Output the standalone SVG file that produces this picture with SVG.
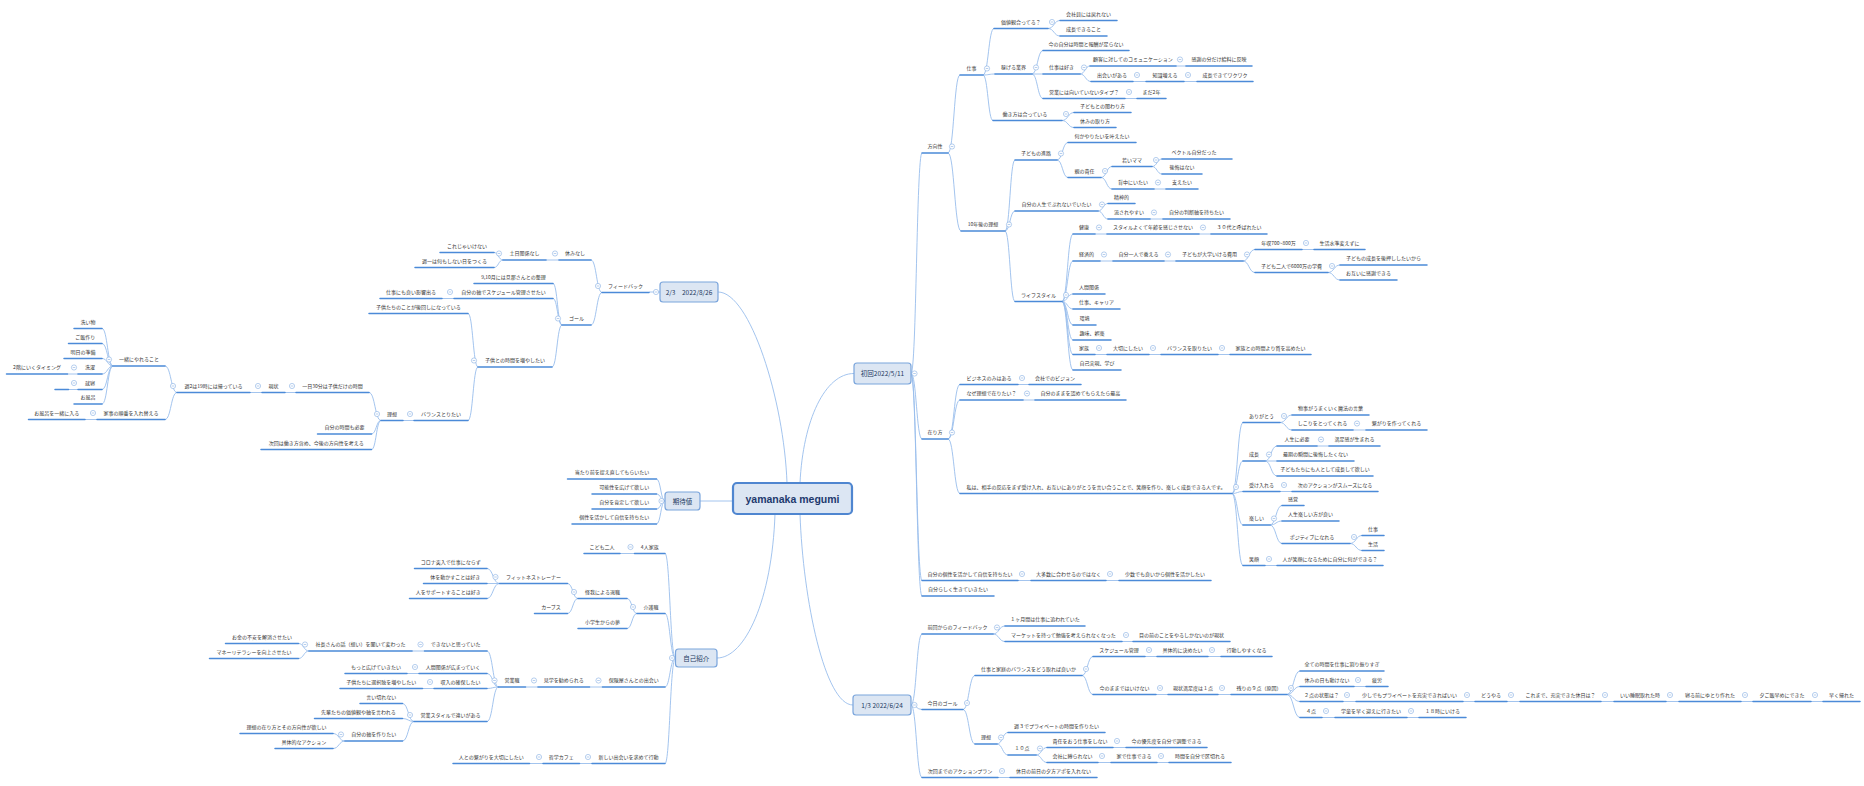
<svg xmlns="http://www.w3.org/2000/svg" xmlns:xlink="http://www.w3.org/1999/xlink" width="1864" height="786" viewBox="0 0 1864 786">
<style>
.u{stroke:#4b8ad8;stroke-width:1.5;fill:none;stroke-linecap:round}
.t{font-family:"Noto Sans CJK JP","Noto Sans CJK SC",sans-serif;font-size:5px;fill:#333;text-anchor:middle}
.c path{stroke:#98bdec;stroke-width:0.9;fill:none}
.b rect{fill:#dce6f3;stroke:#7aa5dc;stroke-width:1.2}
.b text{font-family:"Noto Sans CJK JP","Noto Sans CJK SC",sans-serif;font-size:6.5px;fill:#1e3a5f;text-anchor:middle}
</style>
<defs>
<g id="k"><circle r="2.6" fill="#fff" stroke="#86aee3" stroke-width="0.6"/><path d="M-1.3 0H1.3" stroke="#86aee3" stroke-width="0.6"/></g>
</defs>
<rect width="1864" height="786" fill="#fff"/>
<g id="connectors" class="c">
<path d="M800 483C803 420 825 373.5 854 373.5M787 483C784 400 750 292 718 292M800 514C803 600 825 705 853 705M775 514C772 600 745 658 717 658M733 501H700"/>
<path d="M911 373.5C916.5 373.5 916.5 153 922 153M911 373.5C916.5 373.5 916.5 439 922 439M911 373.5C916.5 373.5 916.5 580.5 922 580.5M911 373.5C916.5 373.5 916.5 596 922 596"/>
<path d="M948 153C954 153 954 75 960 75M948 153C954.5 153 954.5 231 961 231"/>
<path d="M983 75C988.5 75 988.5 28.5 994 28.5M983 75C989 75 989 74 995 74M983 75C988 75 988 120.5 993 120.5"/>
<path d="M1048 28.5C1054 28.5 1054 20.5 1060 20.5M1048 28.5C1054 28.5 1054 36 1060 36"/>
<path d="M1032 74C1037.5 74 1037.5 50.5 1043 50.5M1032 74H1043M1032 74C1037.5 74 1037.5 98.5 1043 98.5"/>
<path d="M1080 74C1085 74 1085 66 1090 66M1080 74C1085.5 74 1085.5 81.5 1091 81.5"/>
<path d="M1176 66H1186M1133 81.5H1146M1184 81.5H1197M1125 98.5H1137"/>
<path d="M1062 120.5C1068 120.5 1068 112.5 1074 112.5M1062 120.5C1068 120.5 1068 127.5 1074 127.5"/>
<path d="M1005 231C1010 231 1010 160 1015 160M1005 231C1010 231 1010 211 1015 211M1005 231C1010 231 1010 301.5 1015 301.5"/>
<path d="M1057 160C1062.5 160 1062.5 142.5 1068 142.5M1057 160C1062.5 160 1062.5 177.5 1068 177.5"/>
<path d="M1101 177.5C1106.5 177.5 1106.5 166.5 1112 166.5M1101 177.5C1106.5 177.5 1106.5 189 1112 189"/>
<path d="M1152 166.5C1157 166.5 1157 159 1162 159M1152 166.5C1157 166.5 1157 174 1162 174M1154 189H1166"/>
<path d="M1098 211C1103 211 1103 203.5 1108 203.5M1098 211C1103 211 1103 219 1108 219M1150 219H1163"/>
<path d="M1062 301.5C1067.5 301.5 1067.5 234 1073 234M1062 301.5C1067.5 301.5 1067.5 261 1073 261M1062 301.5C1067.5 301.5 1067.5 294 1073 294M1062 301.5C1067.5 301.5 1067.5 309 1073 309M1062 301.5C1067.5 301.5 1067.5 325 1073 325M1062 301.5C1067.5 301.5 1067.5 340 1073 340M1062 301.5C1067.5 301.5 1067.5 354.5 1073 354.5M1062 301.5C1067.5 301.5 1067.5 370 1073 370"/>
<path d="M1095 234H1107M1199 234H1211M1100 261H1113M1164 261H1176"/>
<path d="M1243 261C1249 261 1249 249.5 1255 249.5M1243 261C1249 261 1249 272.5 1255 272.5M1302 249.5H1314"/>
<path d="M1328 272.5C1334 272.5 1334 265 1340 265M1328 272.5C1334 272.5 1334 280 1340 280"/>
<path d="M1095 354.5H1107M1149 354.5H1161M1218 354.5H1230"/>
<path d="M948 439C954 439 954 384.5 960 384.5M948 439C954 439 954 400 960 400M948 439C954 439 954 493.5 960 493.5M1018 384.5H1029M1023 400H1035"/>
<path d="M1232 493.5C1237.5 493.5 1237.5 422.5 1243 422.5M1232 493.5C1237.5 493.5 1237.5 461 1243 461M1232 493.5C1237.5 493.5 1237.5 491.5 1243 491.5M1232 493.5C1237.5 493.5 1237.5 525 1243 525M1232 493.5C1237.5 493.5 1237.5 565.5 1243 565.5"/>
<path d="M1280 422.5C1286 422.5 1286 415 1292 415M1280 422.5C1286 422.5 1286 430 1292 430M1353 430H1366"/>
<path d="M1265 461C1271 461 1271 446 1277 446M1265 461H1277M1265 461C1271 461 1271 476 1277 476M1317 446H1329M1280 491.5H1292"/>
<path d="M1270 525C1276 525 1276 505.5 1282 505.5M1270 525C1276 525 1276 521 1282 521M1270 525C1276 525 1276 543.5 1282 543.5"/>
<path d="M1350 543.5C1356 543.5 1356 535.5 1362 535.5M1350 543.5C1356 543.5 1356 550.5 1362 550.5M1265 565.5H1277M1018 580.5H1031M1106 580.5H1119"/>
<path d="M911 705C916.5 705 916.5 634 922 634M911 705C916.5 705 916.5 709.5 922 709.5M911 705C916.5 705 916.5 777.5 922 777.5"/>
<path d="M993 634C999 634 999 626 1005 626M993 634C999 634 999 641.5 1005 641.5M1122 641.5H1133"/>
<path d="M963 709.5C969 709.5 969 675.5 975 675.5M963 709.5C969 709.5 969 744 975 744"/>
<path d="M1082 675.5C1087.5 675.5 1087.5 656.5 1093 656.5M1082 675.5C1087.5 675.5 1087.5 694.5 1093 694.5M1145 656.5H1157M1208 656.5H1221M1156 694.5H1168M1218 694.5H1231"/>
<path d="M1287 694.5C1293.5 694.5 1293.5 671 1300 671M1287 694.5C1293.5 694.5 1293.5 686.5 1300 686.5M1287 694.5C1293.5 694.5 1293.5 701.5 1300 701.5M1287 694.5C1293.5 694.5 1293.5 717.5 1300 717.5"/>
<path d="M1354 686.5H1366M1343 701.5H1356M1463 701.5H1475M1507 701.5H1520M1601 701.5H1614M1666 701.5H1679M1741 701.5H1753M1811 701.5H1823M1322 717.5H1335M1407 717.5H1419"/>
<path d="M997 744C1002.5 744 1002.5 732.5 1008 732.5M997 744C1002.5 744 1002.5 755 1008 755"/>
<path d="M1036 755C1041.5 755 1041.5 747.5 1047 747.5M1036 755C1041.5 755 1041.5 762.5 1047 762.5M1113 747.5H1126M1098 762.5H1111M1157 762.5H1169M998 777.5H1010"/>
<path d="M660 292H649"/>
<path d="M602 292.5C596.5 292.5 596.5 260 591 260M602 292.5C596.5 292.5 596.5 325 591 325M559 260H546"/>
<path d="M503 260C498.5 260 498.5 252.5 494 252.5M503 260C498.5 260 498.5 267.5 494 267.5"/>
<path d="M562 325C557.5 325 557.5 283.5 553 283.5M562 325C557.5 325 557.5 298.5 553 298.5M562 325C557 325 557 367 552 367M454 298.5H442"/>
<path d="M478 367C473 367 473 313.5 468 313.5M478 367C473 367 473 420.5 468 420.5M414 420.5H403"/>
<path d="M381 420.5C375 420.5 375 392.5 369 392.5M381 420.5C376.25 420.5 376.25 434 371.5 434M381 420.5C376.25 420.5 376.25 449.5 371.5 449.5M296 392.5H285M262 392.5H250"/>
<path d="M177 392.5C171 392.5 171 366 165 366M177 392.5C171 392.5 171 419.5 165 419.5"/>
<path d="M113 366C107.5 366 107.5 328.5 102 328.5M113 366C107.5 366 107.5 343.5 102 343.5M113 366C107.5 366 107.5 358.5 102 358.5M113 366C107.5 366 107.5 374 102 374M113 366C107.5 366 107.5 389.5 102 389.5M113 366C107.5 366 107.5 404 102 404M78 374H67.5M78 389.5H68.5M97 419.5H85"/>
<path d="M665 501C660.75 501 660.75 479 656.5 479M665 501C660.75 501 660.75 494 656.5 494M665 501C660.75 501 660.75 509 656.5 509M665 501C660.75 501 660.75 524 656.5 524"/>
<path d="M675.5 658C670 658 670 553.5 665 553.5M675.5 658C670 658 670 613.5 665 613.5M675.5 658C670 658 670 687 665 687M675.5 658C670 658 670 763.5 665 763.5M634.5 553.5H620"/>
<path d="M637 613.5C632 613.5 632 598.5 627 598.5M637 613.5C632 613.5 632 628.5 627 628.5"/>
<path d="M578 598.5C572.75 598.5 572.75 583.5 567.5 583.5M578 598.5C572.75 598.5 572.75 613.5 567.5 613.5"/>
<path d="M499.5 583.5C493 583.5 493 568.5 487 568.5M499.5 583.5H487M499.5 583.5C493 583.5 493 598.5 487 598.5M602.5 687H589.5M538 687H525.5"/>
<path d="M498.5 687C492.75 687 492.75 651 487 651M498.5 687C492.75 687 492.75 673.5 487 673.5M498.5 687C492.75 687 492.75 688.5 487 688.5M498.5 687C492.75 687 492.75 721.5 487 721.5"/>
<path d="M424.5 651H412M309 651C303.75 651 303.75 643.5 298.5 643.5M309 651C303.75 651 303.75 658.5 298.5 658.5M419 673.5H407M434 688.5H422.5"/>
<path d="M414 721.5C408.25 721.5 408.25 703.5 402.5 703.5M414 721.5C408.25 721.5 408.25 718.5 402.5 718.5M414 721.5C408.25 721.5 408.25 741 402.5 741"/>
<path d="M345 741C339 741 339 733.5 333 733.5M345 741C339 741 339 748.5 333 748.5M592 763.5H579.5M543 763.5H529.5"/>
</g>
<g id="root"><rect x="733" y="483" width="119" height="31" rx="4" fill="#dce6f3" stroke="#4f86d0" stroke-width="2.2"/><text x="792.5" y="502.5" font-family="Liberation Sans, Arial, sans-serif" font-size="10.5" font-weight="bold" fill="#1e3a6e" text-anchor="middle">yamanaka megumi</text></g>
<g id="b-first" class="b"><rect x="854" y="363" width="57" height="21" rx="3"/><text x="882.5" y="376">初回2022/5/11</text><use href="#k" x="914.5" y="373.5"/></g>
<g id="b-second" class="b"><rect x="660" y="282" width="58" height="20" rx="3"/><text x="689" y="294.5">2/3　2022/8/26</text><use href="#k" x="656" y="292"/></g>
<g id="b-third" class="b"><rect x="853" y="695" width="58" height="20" rx="3"/><text x="882" y="707.5">1/3 2022/6/24</text><use href="#k" x="914.5" y="705"/></g>
<g id="b-expect" class="b"><rect x="665" y="492" width="35" height="18" rx="3"/><text x="682.5" y="503.5">期待値</text><use href="#k" x="661.5" y="501"/></g>
<g id="b-intro" class="b"><rect x="675.5" y="649" width="41.5" height="18" rx="3"/><text x="696.25" y="660.5">自己紹介</text><use href="#k" x="672" y="658"/></g>
<g id="r1"><path class="u" d="M922 153H948"/><text class="t" x="935" y="148">方向性</text><use href="#k" x="952" y="146.5"/></g>
<g id="r2"><path class="u" d="M960 75H983"/><text class="t" x="971.5" y="70">仕事</text><use href="#k" x="987" y="68.5"/></g>
<g id="r3"><path class="u" d="M994 28.5H1048"/><text class="t" x="1021" y="23.5">価値観合ってる？</text><use href="#k" x="1052" y="22"/></g>
<g id="r4"><path class="u" d="M1060 20.5H1117"/><text class="t" x="1088.5" y="15.5">会社員には戻れない</text></g>
<g id="r5"><path class="u" d="M1060 36H1107"/><text class="t" x="1083.5" y="31">成長できること</text></g>
<g id="r6"><path class="u" d="M995 74H1032"/><text class="t" x="1013.5" y="69">稼げる業界</text><use href="#k" x="1036" y="67.5"/></g>
<g id="r7"><path class="u" d="M1043 50.5H1129"/><text class="t" x="1086" y="45.5">今の自分は時間と報酬が足らない</text></g>
<g id="r8"><path class="u" d="M1043 74H1080"/><text class="t" x="1061.5" y="69">仕事は好き</text><use href="#k" x="1084" y="67.5"/></g>
<g id="r9"><path class="u" d="M1090 66H1176"/><text class="t" x="1133" y="61">顧客に対してのコミュニケーション</text><use href="#k" x="1180" y="59.5"/></g>
<g id="r10"><path class="u" d="M1186 66H1252"/><text class="t" x="1219" y="61">感謝の分だけ給料に反映</text></g>
<g id="r11"><path class="u" d="M1091 81.5H1133"/><text class="t" x="1112" y="76.5">出会いがある</text><use href="#k" x="1137" y="75"/></g>
<g id="r12"><path class="u" d="M1146 81.5H1184"/><text class="t" x="1165" y="76.5">知識増える</text><use href="#k" x="1188" y="75"/></g>
<g id="r13"><path class="u" d="M1197 81.5H1253"/><text class="t" x="1225" y="76.5">成長できてワクワク</text></g>
<g id="r14"><path class="u" d="M1043 98.5H1125"/><text class="t" x="1084" y="93.5">営業には向いていないタイプ？</text><use href="#k" x="1129" y="92"/></g>
<g id="r15"><path class="u" d="M1137 98.5H1166"/><text class="t" x="1151.5" y="93.5">まだ2年</text></g>
<g id="r16"><path class="u" d="M993 120.5H1062"/><text class="t" x="1025" y="115.5">働き方は合っている</text><use href="#k" x="1066" y="114"/></g>
<g id="r17"><path class="u" d="M1074 112.5H1131"/><text class="t" x="1102.5" y="107.5">子どもとの関わり方</text></g>
<g id="r18"><path class="u" d="M1074 127.5H1116"/><text class="t" x="1095" y="122.5">休みの取り方</text></g>
<g id="r19"><path class="u" d="M961 231H1005"/><text class="t" x="983" y="226">10年後の理想</text><use href="#k" x="1009" y="224.5"/></g>
<g id="r20"><path class="u" d="M1015 160H1057"/><text class="t" x="1036" y="155">子どもの進路</text><use href="#k" x="1061" y="153.5"/></g>
<g id="r21"><path class="u" d="M1068 142.5H1136"/><text class="t" x="1102" y="137.5">何かやりたいを叶えたい</text></g>
<g id="r22"><path class="u" d="M1068 177.5H1101"/><text class="t" x="1084.5" y="172.5">親の責任</text><use href="#k" x="1105" y="171"/></g>
<g id="r23"><path class="u" d="M1112 166.5H1152"/><text class="t" x="1132" y="161.5">若いママ</text><use href="#k" x="1156" y="160"/></g>
<g id="r24"><path class="u" d="M1162 159H1232"/><text class="t" x="1194" y="154">ベクトル自分だった</text></g>
<g id="r25"><path class="u" d="M1162 174H1202"/><text class="t" x="1182" y="169">後悔はない</text></g>
<g id="r26"><path class="u" d="M1112 189H1154"/><text class="t" x="1133" y="184">背中にいたい</text><use href="#k" x="1158" y="182.5"/></g>
<g id="r27"><path class="u" d="M1166 189H1198"/><text class="t" x="1182" y="184">支えたい</text></g>
<g id="r28"><path class="u" d="M1015 211H1098"/><text class="t" x="1056.5" y="206">自分の人生でぶれないでいたい</text><use href="#k" x="1102" y="204.5"/></g>
<g id="r29"><path class="u" d="M1108 203.5H1135"/><text class="t" x="1121.5" y="198.5">精神的</text></g>
<g id="r30"><path class="u" d="M1108 219H1150"/><text class="t" x="1129" y="214">流されやすい</text><use href="#k" x="1154" y="212.5"/></g>
<g id="r31"><path class="u" d="M1163 219H1230"/><text class="t" x="1196.5" y="214">自分の判断軸を持ちたい</text></g>
<g id="r32"><path class="u" d="M1015 301.5H1062"/><text class="t" x="1038.5" y="296.5">ライフスタイル</text><use href="#k" x="1066" y="295"/></g>
<g id="r33"><path class="u" d="M1073 234H1095"/><text class="t" x="1084" y="229">健康</text><use href="#k" x="1099" y="227.5"/></g>
<g id="r34"><path class="u" d="M1107 234H1199"/><text class="t" x="1153" y="229">スタイルよくて年齢を感じさせない</text><use href="#k" x="1203" y="227.5"/></g>
<g id="r35"><path class="u" d="M1211 234H1267"/><text class="t" x="1239" y="229">３０代と呼ばれたい</text></g>
<g id="r36"><path class="u" d="M1073 261H1100"/><text class="t" x="1086.5" y="256">経済的</text><use href="#k" x="1104" y="254.5"/></g>
<g id="r37"><path class="u" d="M1113 261H1164"/><text class="t" x="1138.5" y="256">自分一人で養える</text><use href="#k" x="1168" y="254.5"/></g>
<g id="r38"><path class="u" d="M1176 261H1243"/><text class="t" x="1209.5" y="256">子どもが大学いける費用</text><use href="#k" x="1247" y="254.5"/></g>
<g id="r39"><path class="u" d="M1255 249.5H1302"/><text class="t" x="1278.5" y="244.5">年収700~800万</text><use href="#k" x="1306" y="243"/></g>
<g id="r40"><path class="u" d="M1314 249.5H1365"/><text class="t" x="1339.5" y="244.5">生活水準変えずに</text></g>
<g id="r41"><path class="u" d="M1255 272.5H1328"/><text class="t" x="1291.5" y="267.5">子ども二人で6000万の学費</text><use href="#k" x="1332" y="266"/></g>
<g id="r42"><path class="u" d="M1340 265H1427"/><text class="t" x="1383.5" y="260">子どもの成長を後押ししたいから</text></g>
<g id="r43"><path class="u" d="M1340 280H1397"/><text class="t" x="1368.5" y="275">お互いに感謝できる</text></g>
<g id="r44"><path class="u" d="M1073 294H1105"/><text class="t" x="1089" y="289">人間関係</text></g>
<g id="r45"><path class="u" d="M1073 309H1120"/><text class="t" x="1096.5" y="304">仕事、キャリア</text></g>
<g id="r46"><path class="u" d="M1073 325H1096"/><text class="t" x="1084.5" y="320">環境</text></g>
<g id="r47"><path class="u" d="M1073 340H1111"/><text class="t" x="1092" y="335">趣味、娯楽</text></g>
<g id="r48"><path class="u" d="M1073 354.5H1095"/><text class="t" x="1084" y="349.5">家族</text><use href="#k" x="1099" y="348"/></g>
<g id="r49"><path class="u" d="M1107 354.5H1149"/><text class="t" x="1128" y="349.5">大切にしたい</text><use href="#k" x="1153" y="348"/></g>
<g id="r50"><path class="u" d="M1161 354.5H1218"/><text class="t" x="1189.5" y="349.5">バランスを取りたい</text><use href="#k" x="1222" y="348"/></g>
<g id="r51"><path class="u" d="M1230 354.5H1311"/><text class="t" x="1270.5" y="349.5">家族との時間より質を高めたい</text></g>
<g id="r52"><path class="u" d="M1073 370H1121"/><text class="t" x="1097" y="365">自己実現、学び</text></g>
<g id="r53"><path class="u" d="M922 439H948"/><text class="t" x="935" y="434">在り方</text><use href="#k" x="952" y="432.5"/></g>
<g id="r54"><path class="u" d="M960 384.5H1018"/><text class="t" x="989" y="379.5">ビジネスのみはある</text><use href="#k" x="1022" y="378"/></g>
<g id="r55"><path class="u" d="M1029 384.5H1081"/><text class="t" x="1055" y="379.5">会社でのビジョン</text></g>
<g id="r56"><path class="u" d="M960 400H1023"/><text class="t" x="991.5" y="395">なぜ理想で在りたい？</text><use href="#k" x="1027" y="393.5"/></g>
<g id="r57"><path class="u" d="M1035 400H1126"/><text class="t" x="1080.5" y="395">自分のままを認めてもらえたら最高</text></g>
<g id="r58"><path class="u" d="M960 493.5H1232"/><text class="t" x="1096" y="488.5">私は、相手の反応をまず受け入れ、お互いにありがとうを言い合うことで、笑顔を作り、楽しく成長できる人です。</text><use href="#k" x="1236" y="487"/></g>
<g id="r59"><path class="u" d="M1243 422.5H1280"/><text class="t" x="1261.5" y="417.5">ありがとう</text><use href="#k" x="1284" y="416"/></g>
<g id="r60"><path class="u" d="M1292 415H1369"/><text class="t" x="1330.5" y="410">物事がうまくいく魔法の言葉</text></g>
<g id="r61"><path class="u" d="M1292 430H1353"/><text class="t" x="1322.5" y="425">しこりをとってくれる</text><use href="#k" x="1357" y="423.5"/></g>
<g id="r62"><path class="u" d="M1366 430H1427"/><text class="t" x="1396.5" y="425">繋がりを作ってくれる</text></g>
<g id="r63"><path class="u" d="M1243 461H1265"/><text class="t" x="1254" y="456">成長</text><use href="#k" x="1269" y="454.5"/></g>
<g id="r64"><path class="u" d="M1277 446H1317"/><text class="t" x="1297" y="441">人生に必要</text><use href="#k" x="1321" y="439.5"/></g>
<g id="r65"><path class="u" d="M1329 446H1380"/><text class="t" x="1354.5" y="441">満足感が生まれる</text></g>
<g id="r66"><path class="u" d="M1277 461H1354"/><text class="t" x="1315.5" y="456">最期の瞬間に後悔したくない</text></g>
<g id="r67"><path class="u" d="M1277 476H1373"/><text class="t" x="1325" y="471">子どもたちにも人として成長して欲しい</text></g>
<g id="r68"><path class="u" d="M1243 491.5H1280"/><text class="t" x="1261.5" y="486.5">受け入れる</text><use href="#k" x="1284" y="485"/></g>
<g id="r69"><path class="u" d="M1292 491.5H1378"/><text class="t" x="1335" y="486.5">次のアクションがスムーズになる</text></g>
<g id="r70"><path class="u" d="M1243 525H1270"/><text class="t" x="1256.5" y="520">楽しい</text><use href="#k" x="1274" y="518.5"/></g>
<g id="r71"><path class="u" d="M1282 505.5H1304"/><text class="t" x="1293" y="500.5">感覚</text></g>
<g id="r72"><path class="u" d="M1282 521H1339"/><text class="t" x="1310.5" y="516">人生楽しい方が良い</text></g>
<g id="r73"><path class="u" d="M1282 543.5H1350"/><text class="t" x="1312" y="538.5">ポジティブになれる</text><use href="#k" x="1354" y="537"/></g>
<g id="r74"><path class="u" d="M1362 535.5H1384"/><text class="t" x="1373" y="530.5">仕事</text></g>
<g id="r75"><path class="u" d="M1362 550.5H1384"/><text class="t" x="1373" y="545.5">生活</text></g>
<g id="r76"><path class="u" d="M1243 565.5H1265"/><text class="t" x="1254" y="560.5">笑顔</text><use href="#k" x="1269" y="559"/></g>
<g id="r77"><path class="u" d="M1277 565.5H1383"/><text class="t" x="1330" y="560.5">人が笑顔になるために自分に何ができる？</text></g>
<g id="r78"><path class="u" d="M922 580.5H1018"/><text class="t" x="970" y="575.5">自分の個性を活かして自信を持ちたい</text><use href="#k" x="1022" y="574"/></g>
<g id="r79"><path class="u" d="M1031 580.5H1106"/><text class="t" x="1068.5" y="575.5">大多数に合わせるのではなく</text><use href="#k" x="1110" y="574"/></g>
<g id="r80"><path class="u" d="M1119 580.5H1211"/><text class="t" x="1165" y="575.5">少数でも良いから個性を活かしたい</text></g>
<g id="r81"><path class="u" d="M922 596H994"/><text class="t" x="958" y="591">自分らしく生きていきたい</text></g>
<g id="r82"><path class="u" d="M922 634H993"/><text class="t" x="957.5" y="629">前回からのフィードバック</text><use href="#k" x="997" y="627.5"/></g>
<g id="r83"><path class="u" d="M1005 626H1085"/><text class="t" x="1045" y="621">１ヶ月間は仕事に追われていた</text></g>
<g id="r84"><path class="u" d="M1005 641.5H1122"/><text class="t" x="1063.5" y="636.5">マーケットを持って勉強を考えられなくなった</text><use href="#k" x="1126" y="635"/></g>
<g id="r85"><path class="u" d="M1133 641.5H1230"/><text class="t" x="1181.5" y="636.5">目の前のことをやるしかないのが現状</text></g>
<g id="r86"><path class="u" d="M922 709.5H963"/><text class="t" x="942.5" y="704.5">今日のゴール</text><use href="#k" x="967" y="703"/></g>
<g id="r87"><path class="u" d="M975 675.5H1082"/><text class="t" x="1028.5" y="670.5">仕事と家庭のバランスをどう取れば良いか</text><use href="#k" x="1086" y="669"/></g>
<g id="r88"><path class="u" d="M1093 656.5H1145"/><text class="t" x="1119" y="651.5">スケジュール管理</text><use href="#k" x="1149" y="650"/></g>
<g id="r89"><path class="u" d="M1157 656.5H1208"/><text class="t" x="1182.5" y="651.5">具体的に決めたい</text><use href="#k" x="1212" y="650"/></g>
<g id="r90"><path class="u" d="M1221 656.5H1272"/><text class="t" x="1246.5" y="651.5">行動しやすくなる</text></g>
<g id="r91"><path class="u" d="M1093 694.5H1156"/><text class="t" x="1124.5" y="689.5">今のままではいけない</text><use href="#k" x="1160" y="688"/></g>
<g id="r92"><path class="u" d="M1168 694.5H1218"/><text class="t" x="1193" y="689.5">現状満足度は１点</text><use href="#k" x="1222" y="688"/></g>
<g id="r93"><path class="u" d="M1231 694.5H1287"/><text class="t" x="1259" y="689.5">残りの９点（原因）</text><use href="#k" x="1291" y="688"/></g>
<g id="r94"><path class="u" d="M1300 671H1384"/><text class="t" x="1342" y="666">全ての時間を仕事に割り振りすぎ</text></g>
<g id="r95"><path class="u" d="M1300 686.5H1354"/><text class="t" x="1327" y="681.5">休みの日も動けない</text><use href="#k" x="1358" y="680"/></g>
<g id="r96"><path class="u" d="M1366 686.5H1388"/><text class="t" x="1377" y="681.5">疲労</text></g>
<g id="r97"><path class="u" d="M1300 701.5H1343"/><text class="t" x="1321.5" y="696.5">２点の状態は？</text><use href="#k" x="1347" y="695"/></g>
<g id="r98"><path class="u" d="M1356 701.5H1463"/><text class="t" x="1409.5" y="696.5">少しでもプライベートを充実できればいい</text><use href="#k" x="1467" y="695"/></g>
<g id="r99"><path class="u" d="M1475 701.5H1507"/><text class="t" x="1491" y="696.5">どうやる</text><use href="#k" x="1511" y="695"/></g>
<g id="r100"><path class="u" d="M1520 701.5H1601"/><text class="t" x="1560.5" y="696.5">これまで、充実できた休日は？</text><use href="#k" x="1605" y="695"/></g>
<g id="r101"><path class="u" d="M1614 701.5H1666"/><text class="t" x="1640" y="696.5">いい睡眠取れた時</text><use href="#k" x="1670" y="695"/></g>
<g id="r102"><path class="u" d="M1679 701.5H1741"/><text class="t" x="1710" y="696.5">寝る前にゆとり作れた</text><use href="#k" x="1745" y="695"/></g>
<g id="r103"><path class="u" d="M1753 701.5H1811"/><text class="t" x="1782" y="696.5">夕ご飯早めにできた</text><use href="#k" x="1815" y="695"/></g>
<g id="r104"><path class="u" d="M1823 701.5H1860"/><text class="t" x="1841.5" y="696.5">早く帰れた</text></g>
<g id="r105"><path class="u" d="M1300 717.5H1322"/><text class="t" x="1311" y="712.5">４点</text><use href="#k" x="1326" y="711"/></g>
<g id="r106"><path class="u" d="M1335 717.5H1407"/><text class="t" x="1371" y="712.5">学童を早く迎えに行きたい</text><use href="#k" x="1411" y="711"/></g>
<g id="r107"><path class="u" d="M1419 717.5H1466"/><text class="t" x="1442.5" y="712.5">１８時にいける</text></g>
<g id="r108"><path class="u" d="M975 744H997"/><text class="t" x="986" y="739">理想</text><use href="#k" x="1001" y="737.5"/></g>
<g id="r109"><path class="u" d="M1008 732.5H1105"/><text class="t" x="1056.5" y="727.5">週３でプライベートの時間を作りたい</text></g>
<g id="r110"><path class="u" d="M1008 755H1036"/><text class="t" x="1022" y="750">１０点</text><use href="#k" x="1040" y="748.5"/></g>
<g id="r111"><path class="u" d="M1047 747.5H1113"/><text class="t" x="1080" y="742.5">責任をおう仕事をしない</text><use href="#k" x="1117" y="741"/></g>
<g id="r112"><path class="u" d="M1126 747.5H1207"/><text class="t" x="1166.5" y="742.5">今の優先度を自分で調整できる</text></g>
<g id="r113"><path class="u" d="M1047 762.5H1098"/><text class="t" x="1072.5" y="757.5">会社に縛られない</text><use href="#k" x="1102" y="756"/></g>
<g id="r114"><path class="u" d="M1111 762.5H1157"/><text class="t" x="1134" y="757.5">家で仕事できる</text><use href="#k" x="1161" y="756"/></g>
<g id="r115"><path class="u" d="M1169 762.5H1231"/><text class="t" x="1200" y="757.5">時間を自分で区切れる</text></g>
<g id="r116"><path class="u" d="M922 777.5H998"/><text class="t" x="960" y="772.5">次回までのアクションプラン</text><use href="#k" x="1002" y="771"/></g>
<g id="r117"><path class="u" d="M1010 777.5H1097"/><text class="t" x="1053.5" y="772.5">休日の前日の夕方アポを入れない</text></g>
<g id="l1"><path class="u" d="M602 292.5H649"/><text class="t" x="625.5" y="287.5">フィードバック</text><use href="#k" x="598" y="286"/></g>
<g id="l2"><path class="u" d="M559 260H591"/><text class="t" x="575" y="255">休みなし</text><use href="#k" x="555" y="253.5"/></g>
<g id="l3"><path class="u" d="M503 260H546"/><text class="t" x="524.5" y="255">土日関係なし</text><use href="#k" x="499" y="253.5"/></g>
<g id="l4"><path class="u" d="M440 252.5H494"/><text class="t" x="467" y="247.5">これじゃいけない</text></g>
<g id="l5"><path class="u" d="M415 267.5H494"/><text class="t" x="454.5" y="262.5">週一は何もしない日をつくる</text></g>
<g id="l6"><path class="u" d="M562 325H591"/><text class="t" x="576.5" y="320">ゴール</text><use href="#k" x="558" y="318.5"/></g>
<g id="l7"><path class="u" d="M474 283.5H553"/><text class="t" x="513.5" y="278.5">9,10月には旦那さんとの整理</text></g>
<g id="l8"><path class="u" d="M454 298.5H553"/><text class="t" x="503.5" y="293.5">自分の軸でスケジュール管理させたい</text><use href="#k" x="450" y="292"/></g>
<g id="l9"><path class="u" d="M380 298.5H442"/><text class="t" x="411" y="293.5">仕事にも良い影響出る</text></g>
<g id="l10"><path class="u" d="M478 367H552"/><text class="t" x="515" y="362">子供との時間を増やしたい</text><use href="#k" x="474" y="360.5"/></g>
<g id="l11"><path class="u" d="M369 313.5H468"/><text class="t" x="418.5" y="308.5">子供たちのことが後回しになっている</text></g>
<g id="l12"><path class="u" d="M414 420.5H468"/><text class="t" x="441" y="415.5">バランスとりたい</text><use href="#k" x="410" y="414"/></g>
<g id="l13"><path class="u" d="M381 420.5H403"/><text class="t" x="392" y="415.5">理想</text><use href="#k" x="377" y="414"/></g>
<g id="l14"><path class="u" d="M296 392.5H369"/><text class="t" x="332.5" y="387.5">一日30分は子供だけの時間</text><use href="#k" x="292" y="386"/></g>
<g id="l15"><path class="u" d="M262 392.5H285"/><text class="t" x="273.5" y="387.5">現状</text><use href="#k" x="258" y="386"/></g>
<g id="l16"><path class="u" d="M177 392.5H250"/><text class="t" x="213.5" y="387.5">週2は19時には帰っている</text><use href="#k" x="173" y="386"/></g>
<g id="l17"><path class="u" d="M113 366H165"/><text class="t" x="139" y="361">一緒にやれること</text><use href="#k" x="109" y="359.5"/></g>
<g id="l18"><path class="u" d="M74 328.5H102"/><text class="t" x="88" y="323.5">洗い物</text></g>
<g id="l19"><path class="u" d="M68.5 343.5H102"/><text class="t" x="85.25" y="338.5">ご飯作り</text></g>
<g id="l20"><path class="u" d="M64 358.5H102"/><text class="t" x="83" y="353.5">明日の準備</text></g>
<g id="l21"><path class="u" d="M78 374H102"/><text class="t" x="90" y="369">洗濯</text><use href="#k" x="74" y="367.5"/></g>
<g id="l22"><path class="u" d="M6.5 374H67.5"/><text class="t" x="37" y="369">2階にいくタイミング</text></g>
<g id="l23"><path class="u" d="M78 389.5H102"/><text class="t" x="90" y="384.5">就寝</text><use href="#k" x="74" y="383"/></g>
<g id="l23b"><path class="u" d="M55 389.5H68.5"/></g>
<g id="l24"><path class="u" d="M74 404H102"/><text class="t" x="88" y="399">お風呂</text></g>
<g id="l25"><path class="u" d="M97 419.5H165"/><text class="t" x="131" y="414.5">家事の順番を入れ替える</text><use href="#k" x="93" y="413"/></g>
<g id="l26"><path class="u" d="M28.5 419.5H85"/><text class="t" x="56.75" y="414.5">お風呂を一緒に入る</text></g>
<g id="l27"><path class="u" d="M317.5 434H371.5"/><text class="t" x="344.5" y="429">自分の時間も必要</text></g>
<g id="l28"><path class="u" d="M261 449.5H371.5"/><text class="t" x="316.25" y="444.5">次回は働き方含め、今後の方向性を考える</text></g>
<g id="l29"><path class="u" d="M567.5 479H656.5"/><text class="t" x="612" y="474">当たり前を捉え直してもらいたい</text></g>
<g id="l30"><path class="u" d="M592 494H656.5"/><text class="t" x="624.25" y="489">可能性を広げて欲しい</text></g>
<g id="l31"><path class="u" d="M592 509H656.5"/><text class="t" x="624.25" y="504">自分を肯定して欲しい</text></g>
<g id="l32"><path class="u" d="M572 524H656.5"/><text class="t" x="614.25" y="519">個性を活かして自信を持ちたい</text></g>
<g id="l33"><path class="u" d="M634.5 553.5H665"/><text class="t" x="649.75" y="548.5">4人家族</text><use href="#k" x="630.5" y="547"/></g>
<g id="l34"><path class="u" d="M584 553.5H620"/><text class="t" x="602" y="548.5">こども二人</text></g>
<g id="l35"><path class="u" d="M637 613.5H665"/><text class="t" x="651" y="608.5">介護職</text><use href="#k" x="633" y="607"/></g>
<g id="l36"><path class="u" d="M578 598.5H627"/><text class="t" x="602.5" y="593.5">怪我による退職</text><use href="#k" x="574" y="592"/></g>
<g id="l37"><path class="u" d="M499.5 583.5H567.5"/><text class="t" x="533.5" y="578.5">フィットネストレーナー</text><use href="#k" x="495.5" y="577"/></g>
<g id="l38"><path class="u" d="M414.5 568.5H487"/><text class="t" x="450.75" y="563.5">コロナ突入で仕事にならず</text></g>
<g id="l39"><path class="u" d="M423.5 583.5H487"/><text class="t" x="455.25" y="578.5">体を動かすことは好き</text></g>
<g id="l40"><path class="u" d="M409.5 598.5H487"/><text class="t" x="448.25" y="593.5">人をサポートすることは好き</text></g>
<g id="l41"><path class="u" d="M534.5 613.5H567.5"/><text class="t" x="551" y="608.5">カーブス</text></g>
<g id="l42"><path class="u" d="M578 628.5H627"/><text class="t" x="602.5" y="623.5">小学生からの夢</text></g>
<g id="l43"><path class="u" d="M602.5 687H665"/><text class="t" x="633.75" y="682">保険屋さんとの出会い</text><use href="#k" x="598.5" y="680.5"/></g>
<g id="l44"><path class="u" d="M538 687H589.5"/><text class="t" x="563.75" y="682">見学を勧められる</text><use href="#k" x="534" y="680.5"/></g>
<g id="l45"><path class="u" d="M498.5 687H525.5"/><text class="t" x="512" y="682">営業職</text><use href="#k" x="494.5" y="680.5"/></g>
<g id="l46"><path class="u" d="M424.5 651H487"/><text class="t" x="455.75" y="646">できないと思っていた</text><use href="#k" x="420.5" y="644.5"/></g>
<g id="l47"><path class="u" d="M309 651H412"/><text class="t" x="360.5" y="646">社長さんの話（想い）を聞いて変わった</text><use href="#k" x="305" y="644.5"/></g>
<g id="l48"><path class="u" d="M225.5 643.5H298.5"/><text class="t" x="262" y="638.5">お金の不安を解消させたい</text></g>
<g id="l49"><path class="u" d="M209.5 658.5H298.5"/><text class="t" x="254" y="653.5">マネーリテラシーを向上させたい</text></g>
<g id="l50"><path class="u" d="M419 673.5H487"/><text class="t" x="453" y="668.5">人間関係が広まっていく</text><use href="#k" x="415" y="667"/></g>
<g id="l51"><path class="u" d="M345 673.5H407"/><text class="t" x="376" y="668.5">もっと広げていきたい</text></g>
<g id="l52"><path class="u" d="M434 688.5H487"/><text class="t" x="460.5" y="683.5">収入の確保したい</text><use href="#k" x="430" y="682"/></g>
<g id="l53"><path class="u" d="M340 688.5H422.5"/><text class="t" x="381.25" y="683.5">子供たちに選択肢を増やしたい</text></g>
<g id="l54"><path class="u" d="M414 721.5H487"/><text class="t" x="450.5" y="716.5">営業スタイルで違いがある</text><use href="#k" x="410" y="715"/></g>
<g id="l55"><path class="u" d="M360 703.5H402.5"/><text class="t" x="381.25" y="698.5">言い切れない</text></g>
<g id="l56"><path class="u" d="M314.5 718.5H402.5"/><text class="t" x="358.5" y="713.5">先輩たちの価値観や軸を言われる</text></g>
<g id="l57"><path class="u" d="M345 741H402.5"/><text class="t" x="373.75" y="736">自分の軸を作りたい</text><use href="#k" x="341" y="734.5"/></g>
<g id="l58"><path class="u" d="M240 733.5H333"/><text class="t" x="286.5" y="728.5">理想の在り方とその方向性が欲しい</text></g>
<g id="l59"><path class="u" d="M275 748.5H333"/><text class="t" x="304" y="743.5">具体的なアクション</text></g>
<g id="l60"><path class="u" d="M592 763.5H665"/><text class="t" x="628.5" y="758.5">新しい出会いを求めて行動</text><use href="#k" x="588" y="757"/></g>
<g id="l61"><path class="u" d="M543 763.5H579.5"/><text class="t" x="561.25" y="758.5">哲学カフェ</text><use href="#k" x="539" y="757"/></g>
<g id="l62"><path class="u" d="M453 763.5H529.5"/><text class="t" x="491.25" y="758.5">人との繋がりを大切にしたい</text></g>
</svg>
